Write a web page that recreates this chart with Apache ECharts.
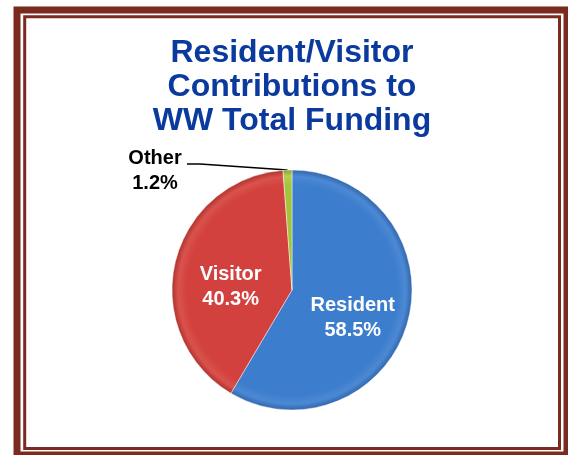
<!DOCTYPE html>
<html>
<head>
<meta charset="utf-8">
<script src="https://cdn.jsdelivr.net/npm/echarts@6/dist/echarts.min.js"></script>
<style>
html,body{margin:0;padding:0;background:#fff;}
#c{width:568px;height:455px;}
</style>
</head>
<body>
<div id="c"></div>
<script>
var titleText = 'Resident/Visitor\nContributions to\nWW Total Funding';
var categories = ['Resident', 'Visitor', 'Other'];
var values = [58.5, 40.3, 1.2];
var colorsBase = ['#3D7DCD', '#D2413D', '#A4C33E'];
var colorsLight = ['#4C89D4', '#DA524D', '#B4CF52'];
var colorsDark = ['#2D61A6', '#A82E2A', '#829E2E'];

var FONT = '"Liberation Sans", Arial, sans-serif';
var chart = echarts.init(document.getElementById('c'), null, {renderer: 'canvas'});

function grad(i) {
  return {
    type: 'radial', x: 292, y: 290, r: 121, global: true,
    colorStops: [
      {offset: 0, color: colorsBase[i]},
      {offset: 0.87, color: colorsBase[i]},
      {offset: 0.94, color: colorsLight[i]},
      {offset: 1, color: colorsDark[i]}
    ]
  };
}

var data = categories.map(function (name, i) {
  var d = {name: name, value: values[i], itemStyle: {color: grad(i)}};
  if (name === 'Other') {
    d.label = {position: 'outside', color: '#000'};
    d.labelLine = {show: true, lineStyle: {color: '#000', width: 1.5}};
  }
  return d;
});

chart.setOption({
  animation: false,
  backgroundColor: '#fff',
  title: {
    text: titleText,
    left: 287,
    textAlign: 'center',
    top: 31,
    textStyle: {
      fontFamily: FONT, fontSize: 32, fontWeight: 'bold',
      color: '#0B3A9E', lineHeight: 34
    }
  },
  graphic: [
    {type: 'rect', shape: {x: 17, y: 10, width: 550, height: 445}, style: {fill: null, stroke: '#7A2A1E', lineWidth: 7}},
    {type: 'rect', shape: {x: 24.7, y: 16.7, width: 534.8, height: 431.8}, style: {fill: null, stroke: '#7A2A1E', lineWidth: 3}}
  ],
  series: [{
    type: 'pie',
    center: [292, 290],
    radius: [0, 120],
    startAngle: 90,
    clockwise: true,
    data: data,
    itemStyle: {borderColor: 'rgba(255,255,255,0.45)', borderWidth: 1},
    label: {
      show: true,
      position: 'inside',
      formatter: function (p) { return p.name + '\n' + p.value.toFixed(1) + '%'; },
      fontFamily: FONT, fontSize: 20, fontWeight: 'bold',
      color: '#fff', lineHeight: 25
    },
    labelLine: {show: false},
    labelLayout: function (params) {
      if (params.dataIndex === 2) {
        var p0 = params.labelLinePoints ? params.labelLinePoints[0] : [289, 172];
        return {
          x: 155, y: 171, align: 'center', verticalAlign: 'middle',
          labelLinePoints: [p0, [200, 164], [187, 164]]
        };
      }
      return {dy: 11};
    },
    emphasis: {disabled: true}
  }]
});
</script>
</body>
</html>
